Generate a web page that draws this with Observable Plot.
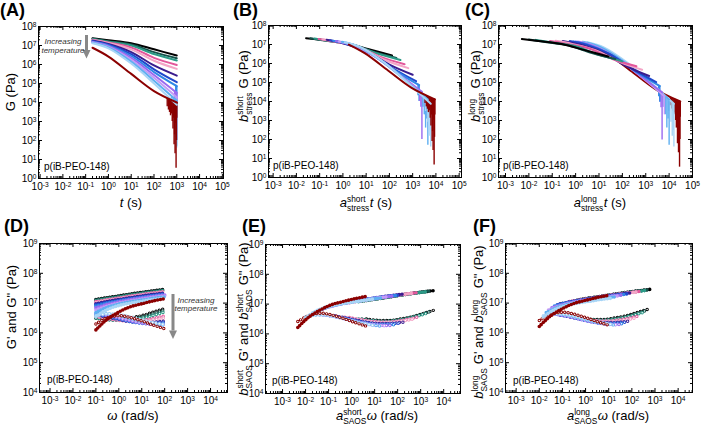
<!DOCTYPE html>
<html>
<head>
<meta charset="utf-8">
<script src="https://cdn.jsdelivr.net/npm/d3@7"></script>
<script src="https://cdn.jsdelivr.net/npm/@observablehq/plot@0.6"></script>
<style>
  body { margin: 0; background: #fff; }
  #fig { position: relative; width: 701px; height: 430px; font-family: Arial, "Liberation Sans", Helvetica, sans-serif; }
  #fig svg { position: absolute; left: 0; top: 0; }
</style>
</head>
<body>
<div id="fig"></div>
<script>
// ---------- data ----------
// temperature series, coldest first
const temps = ["T1", "T2", "T3", "T4", "T5", "T6", "T7", "T8", "T9", "T10", "T11", "T12", "T13"];
const lineColors = ["#000000", "#16524b", "#2b9a87", "#e2579b", "#f4a5c7", "#3a1c8e", "#2048cc",
                    "#2f87e6", "#9a6af0", "#c49bf6", "#5eaff1", "#a8d5f6", "#8b0000"];

// stress relaxation G(t), Pa
const tRelax = [0.2, 1, 10, 100, 1000];
const relaxModulus = [
  [2.4e7, 1.9e7, 1.32e7, 6.3e6, 2.95e6],
  [2.29e7, 1.7e7, 1.12e7, 4.47e6, 2.14e6],
  [2.19e7, 1.58e7, 1.0e7, 3.55e6, 1.62e6],
  [2.04e7, 1.45e7, 7.9e6, 2.24e6, 9.5e5],
  [1.95e7, 1.35e7, 6.3e6, 1.58e6, 5.9e5],
  [1.82e7, 1.2e7, 4.5e6, 8.9e5, 2.6e5],
  [1.7e7, 1.1e7, 3.55e6, 5.6e5, 1.17e5],
  [1.58e7, 1.0e7, 2.8e6, 4.0e5, 7.2e4],
  [1.51e7, 9.3e6, 2.24e6, 2.8e5, 3.2e4],
  [1.45e7, 8.5e6, 1.78e6, 2.0e5, 1.9e4],
  [1.38e7, 7.9e6, 1.41e6, 1.41e5, 1.26e4],
  [1.32e7, 7.1e6, 1.12e6, 1.0e5, 7.6e3],
  [7.6e6, 2.6e6, 3.2e5, 4.0e4, 1.0e4]
];
// noisy long-time tails: [t, upper G, lower G]
const tailT8 = [[900, 8e4, 2e4], [1000, 7.2e4, 1e4]];
const tailT9 = [[800, 3.6e4, 1e4], [900, 3.4e4, 5e3], [1000, 3.2e4, 1e2]];
const tailT10 = [[850, 2.1e4, 5e3], [1000, 1.9e4, 2e3]];
const tailT11 = [[600, 1.9e4, 5e3], [700, 1.7e4, 2e3], [800, 1.5e4, 4e2], [900, 1.35e4, 1.2e3], [1000, 1.26e4, 50]];
const tailT12 = [[600, 1.2e4, 3e3], [750, 1.0e4, 8e2], [850, 8.5e3, 1.5e2], [950, 8e3, 3e2], [1000, 7.6e3, 40]];
const tailT13 = [[380, 1.6e4, 6e3], [430, 1.5e4, 4e3], [480, 1.4e4, 3e3], [530, 1.3e4, 2e3], [580, 1.3e4, 2.5e3],
                 [630, 1.2e4, 1e3], [680, 1.2e4, 4e2], [720, 1.1e4, 1.5e3], [760, 1.1e4, 60], [800, 1.1e4, 2e2],
                 [840, 1.05e4, 20], [880, 1.0e4, 8e2], [930, 1.0e4, 3.5], [970, 1.0e4, 1e2], [1000, 1.0e4, 1.5e3]];
const relaxTails = [[7, tailT8], [8, tailT9], [9, tailT10], [10, tailT11], [11, tailT12], [12, tailT13]];

// stress shift factors
const aStressShort = [0.13, 0.2, 0.3, 0.45, 0.65, 1.0, 1.4, 1.9, 2.5, 3.3, 4.5, 6, 9];
const bStressShort = [0.9, 0.92, 0.94, 0.96, 0.97, 0.98, 1, 1, 1, 1, 1, 1, 1.3];
const aStressLong = [0.025, 0.05, 0.1, 0.4, 0.7, 1.4, 2.8, 4, 5, 6.3, 10, 16, 30];
const bStressLong = [0.8, 0.8, 0.8, 0.75, 0.8, 0.85, 0.9, 0.9, 0.95, 1, 1, 1, 1];

// SAOS frequency sweeps, Pa
const omega = [0.1, 0.3, 1, 3, 10, 30, 100];
const storageModulus = [
  [1.32e7, 1.51e7, 1.74e7, 2.0e7, 2.29e7, 2.57e7, 2.88e7],
  [1.26e7, 1.45e7, 1.66e7, 1.91e7, 2.19e7, 2.45e7, 2.75e7],
  [1.2e7, 1.38e7, 1.58e7, 1.82e7, 2.09e7, 2.34e7, 2.63e7],
  [1.12e7, 1.29e7, 1.48e7, 1.7e7, 1.95e7, 2.19e7, 2.45e7],
  [1.05e7, 1.23e7, 1.41e7, 1.62e7, 1.86e7, 2.09e7, 2.34e7],
  [9.5e6, 1.12e7, 1.32e7, 1.51e7, 1.74e7, 1.95e7, 2.19e7],
  [8.7e6, 1.05e7, 1.23e7, 1.41e7, 1.62e7, 1.82e7, 2.04e7],
  [7.9e6, 9.8e6, 1.17e7, 1.35e7, 1.55e7, 1.74e7, 1.95e7],
  [6.9e6, 8.9e6, 1.1e7, 1.29e7, 1.48e7, 1.66e7, 1.86e7],
  [5.9e6, 7.9e6, 1.0e7, 1.17e7, 1.35e7, 1.55e7, 1.74e7],
  [4.8e6, 7.1e6, 9.3e6, 1.1e7, 1.26e7, 1.45e7, 1.62e7],
  [3.5e6, 6.0e6, 8.3e6, 1.0e7, 1.15e7, 1.32e7, 1.48e7],
  [1.26e6, 2.8e6, 5.0e6, 7.4e6, 9.5e6, 1.17e7, 1.41e7]
];
const lossModulus = [
  [3.16e6, 2.88e6, 2.82e6, 3.16e6, 3.8e6, 4.9e6, 6.5e6],
  [3.16e6, 2.82e6, 2.69e6, 2.88e6, 3.39e6, 4.27e6, 5.75e6],
  [3.16e6, 2.82e6, 2.63e6, 2.69e6, 3.09e6, 3.8e6, 5.0e6],
  [3.55e6, 3.02e6, 2.63e6, 2.51e6, 2.63e6, 3.02e6, 3.72e6],
  [3.72e6, 3.16e6, 2.69e6, 2.45e6, 2.45e6, 2.69e6, 3.16e6],
  [3.98e6, 3.39e6, 2.82e6, 2.4e6, 2.24e6, 2.29e6, 2.51e6],
  [4.17e6, 3.55e6, 2.88e6, 2.4e6, 2.14e6, 2.14e6, 2.29e6],
  [4.27e6, 3.72e6, 3.02e6, 2.45e6, 2.09e6, 2.0e6, 2.04e6],
  [4.37e6, 3.89e6, 3.16e6, 2.57e6, 2.14e6, 1.95e6, 1.91e6],
  [4.47e6, 4.17e6, 3.47e6, 2.82e6, 2.29e6, 2.0e6, 1.86e6],
  [4.17e6, 4.37e6, 3.8e6, 3.09e6, 2.45e6, 2.04e6, 1.82e6],
  [3.8e6, 4.37e6, 4.17e6, 3.47e6, 2.75e6, 2.24e6, 1.91e6],
  [2.0e6, 3.16e6, 3.8e6, 3.31e6, 2.51e6, 1.86e6, 1.38e6]
];

// SAOS shift factors
const aSaosShort = [44, 28, 20, 8, 5, 2, 1.26, 0.8, 0.56, 0.32, 0.2, 0.1, 0.046];
const bSaosShort = [1, 1, 1, 1, 1, 1, 1, 1, 1, 1, 1, 1, 1.3];
const aSaosLong = [5.9, 4.5, 3.5, 2.0, 1.5, 0.8, 0.6, 0.45, 0.35, 0.25, 0.2, 0.15, 0.1];
const bSaosLong = [1, 1, 1, 1, 1, 1, 1, 1, 1, 1, 1, 1, 1.3];

const sampleName = "p(iB-PEO-148)";

// ---------- layout ----------
const W = 701, H = 430;
const FONT = 'Arial, "Liberation Sans", Helvetica, sans-serif';
// frame [left, right, top, bottom] in px, axis extents in decades
const panels = {
  A: {frame: [38, 223, 26, 178], x: [-3.07, 5.05], y: [0, 8]},
  B: {frame: [268, 461, 25, 177], x: [-3.2, 5.1], y: [0, 8]},
  C: {frame: [498, 692, 25, 177], x: [-3.3, 5.0], y: [0, 8]},
  D: {frame: [39, 227, 243, 392], x: [-3.46, 4.74], y: [4, 9]},
  E: {frame: [265, 460, 244, 393], x: [-3.74, 4.73], y: [4, 9]},
  F: {frame: [505, 692, 243, 392], x: [-3.46, 4.62], y: [4, 9]}
};

function decadeTicks([lo, hi]) {
  const out = [];
  for (let e = Math.ceil(lo - 1e-6); e <= Math.floor(hi + 1e-6); e++) out.push(10 ** e);
  return out;
}
function minorTicks([lo, hi]) {
  const out = [];
  for (let e = Math.floor(lo); e <= Math.ceil(hi); e++)
    for (let k = 2; k <= 9; k++) {
      const v = k * 10 ** e, l = Math.log10(v);
      if (l > lo && l < hi) out.push(v);
    }
  return out;
}
const powerFormat = d => `10^${Math.round(Math.log10(d))}`;

function panelPlot(box, marks) {
  const [L, R, T, B] = box.frame;
  const fw = R - L, fh = B - T;
  const edgeTicks = (len, xs, ys) => [
    Plot.ruleX(xs, {x: d => d, insetTop: fh - len}),
    Plot.ruleX(xs, {x: d => d, insetBottom: fh - len}),
    Plot.ruleY(ys, {y: d => d, insetRight: fw - len}),
    Plot.ruleY(ys, {y: d => d, insetLeft: fw - len})
  ];
  const xMaj = decadeTicks(box.x), yMaj = decadeTicks(box.y);
  return Plot.plot({
    width: W, height: H,
    marginLeft: L, marginRight: W - R, marginTop: T, marginBottom: H - B,
    x: {type: "log", domain: [10 ** box.x[0], 10 ** box.x[1]], label: null},
    y: {type: "log", domain: [10 ** box.y[0], 10 ** box.y[1]], label: null},
    color: {type: "identity"},
    style: {background: "transparent", fontFamily: FONT, overflow: "visible", color: "#000"},
    marks: [
      ...marks,
      ...edgeTicks(4, xMaj, yMaj),
      ...edgeTicks(2, minorTicks(box.x), minorTicks(box.y)),
      Plot.frame({stroke: "#000"}),
      Plot.axisX(xMaj, {tickSize: 0, tickPadding: 4, fontSize: 10, tickFormat: powerFormat, label: null}),
      Plot.axisY(yMaj, {tickSize: 0, tickPadding: 2, fontSize: 10, tickFormat: powerFormat, label: null})
    ]
  });
}

// ---------- marks ----------
const relaxRows = temps.flatMap((_, i) => tRelax.map((t, j) => ({i, t, G: relaxModulus[i][j]})));
const tailRows = relaxTails.flatMap(([i, pts]) => pts.map(([t, top, bottom]) => ({i, t, top, bottom})));

function relaxMarks(a, b, reverse = false) {
  const sa = i => (a ? a[i] : 1), sb = i => (b ? b[i] : 1);
  const ord = d => (reverse ? -d.i : d.i);
  const rows = relaxRows.map(d => ({i: d.i, x: d.t * sa(d.i), y: d.G * sb(d.i)}))
    .sort((p, q) => ord(p) - ord(q));
  const tails = tailRows.map(d => ({i: d.i, x: d.t * sa(d.i), y1: d.top * sb(d.i), y2: d.bottom * sb(d.i)}))
    .sort((p, q) => ord(p) - ord(q));
  return [
    Plot.ruleX(tails, {x: "x", y1: "y1", y2: "y2", stroke: d => lineColors[d.i], strokeWidth: 1.4, clip: true}),
    Plot.line(rows, {x: "x", y: "y", z: "i", stroke: d => lineColors[d.i], strokeWidth: 2,
                     curve: "catmull-rom", clip: true})
  ];
}

function saosMarks(a, b) {
  const sa = i => (a ? a[i] : 1), sb = i => (b ? b[i] : 1);
  const loss = [], storage = [];
  temps.forEach((_, i) => {
    const rows = omega.map((w, j) => ({x: w * sa(i), gp: storageModulus[i][j] * sb(i), gpp: lossModulus[i][j] * sb(i)}));
    const dots = {x: "x", strokeLinecap: "round", curve: "catmull-rom", clip: true};
    // G'' as open circles
    loss.push(
      Plot.line(rows, {...dots, y: "gpp", stroke: lineColors[i], strokeWidth: 3.4, strokeDasharray: "0 3.4"}),
      Plot.line(rows, {...dots, y: "gpp", stroke: "#fff", strokeWidth: 1.5, strokeDasharray: "0 3.4"})
    );
    // G' as filled circles
    storage.push(Plot.line(rows, {...dots, y: "gp", stroke: lineColors[i], strokeWidth: 3.6, strokeDasharray: "0 2.8"}));
  });
  return [...loss, ...storage];
}

const fig = document.getElementById("fig");
const plots = [
  panelPlot(panels.A, relaxMarks(null, null)),
  panelPlot(panels.B, relaxMarks(aStressShort, bStressShort)),
  panelPlot(panels.C, relaxMarks(aStressLong, bStressLong, true)),
  panelPlot(panels.D, saosMarks(null, null)),
  panelPlot(panels.E, saosMarks(aSaosShort, bSaosShort)),
  panelPlot(panels.F, saosMarks(aSaosLong, bSaosLong))
];
plots.forEach(p => fig.appendChild(p));

// tick labels as 10 with a raised exponent
plots.forEach(svg => {
  d3.select(svg).selectAll('g[aria-label="x-axis tick label"] text, g[aria-label="y-axis tick label"] text').each(function () {
    const m = /^10\^(.+)$/.exec(this.textContent);
    if (!m) return;
    this.textContent = "";
    const t = d3.select(this);
    t.append("tspan").text("10");
    t.append("tspan").attr("dy", "-0.45em").attr("font-size", "0.66em").text(m[1]);
  });
});

// ---------- titles and annotations ----------
const layer = d3.select(fig).append("svg")
  .attr("width", W).attr("height", H)
  .style("font-family", FONT).style("overflow", "visible");

const keepSpaces = s => s.replace(/ /g, "\u00a0");

function richLabel({x, y, rotate = 0, size = 13, parts}) {
  const g = layer.append("g")
    .attr("transform", `translate(${x},${y}) rotate(${rotate})`)
    .attr("font-size", size).attr("text-anchor", "start");
  const small = size * 0.64;
  let cx = 0;
  for (const p of parts) {
    if (p.t !== undefined) {
      const el = g.append("text").attr("x", cx).attr("y", 0).attr("font-style", p.i ? "italic" : null).text(keepSpaces(p.t));
      cx += el.node().getComputedTextLength();
    } else {
      const up = g.append("text").attr("x", cx).attr("y", -size * 0.42).attr("font-size", small).text(p.sup);
      const dn = g.append("text").attr("x", cx).attr("y", size * 0.28).attr("font-size", small).text(p.sub);
      cx += Math.max(up.node().getComputedTextLength(), dn.node().getComputedTextLength()) + 0.5;
    }
  }
  g.selectAll("text").attr("x", function () { return +this.getAttribute("x") - cx / 2; });
}

// axis titles
richLabel({x: 15, y: 92, rotate: -90, parts: [{t: "G (Pa)"}]});
richLabel({x: 131, y: 207, parts: [{t: "t", i: true}, {t: " (s)"}]});
richLabel({x: 248, y: 86, rotate: -90, parts: [{t: "b", i: true}, {sup: "short", sub: "stress"}, {t: " G (Pa)"}]});
richLabel({x: 366, y: 207, parts: [{t: "a", i: true}, {sup: "short", sub: "stress"}, {t: "t", i: true}, {t: " (s)"}]});
richLabel({x: 480, y: 86, rotate: -90, parts: [{t: "b", i: true}, {sup: "long", sub: "stress"}, {t: " G (Pa)"}]});
richLabel({x: 600, y: 207, parts: [{t: "a", i: true}, {sup: "long", sub: "stress"}, {t: "t", i: true}, {t: " (s)"}]});
richLabel({x: 16, y: 307, rotate: -90, parts: [{t: "G' and G\" (Pa)"}]});
richLabel({x: 133, y: 420, parts: [{t: "ω", i: true}, {t: " (rad/s)"}]});
richLabel({x: 248, y: 319, rotate: -90, parts: [{t: "b", i: true}, {sup: "short", sub: "SAOS"}, {t: " G' and "},
                                                 {t: "b", i: true}, {sup: "short", sub: "SAOS"}, {t: " G\" (Pa)"}]});
richLabel({x: 377, y: 420, parts: [{t: "a", i: true}, {sup: "short", sub: "SAOS"}, {t: "ω", i: true}, {t: " (rad/s)"}]});
richLabel({x: 483, y: 322, rotate: -90, parts: [{t: "b", i: true}, {sup: "long", sub: "SAOS"}, {t: " G' and "},
                                                 {t: "b", i: true}, {sup: "long", sub: "SAOS"}, {t: " G\" (Pa)"}]});
richLabel({x: 608, y: 420, parts: [{t: "a", i: true}, {sup: "long", sub: "SAOS"}, {t: "ω", i: true}, {t: " (rad/s)"}]});

// panel letters
[["(A)", 0, 16], ["(B)", 233, 16], ["(C)", 465, 16], ["(D)", 4, 232], ["(E)", 242, 232], ["(F)", 473, 232]]
  .forEach(([s, x, y]) => layer.append("text").attr("x", x).attr("y", y)
    .attr("font-size", 18).attr("font-weight", "bold").text(s));

// sample name inside each frame
[[44, 170], [273, 169], [503, 169], [47, 383], [272, 384], [513, 384]]
  .forEach(([x, y]) => layer.append("text").attr("x", x).attr("y", y).attr("font-size", 10).text(sampleName));

// "Increasing temperature" arrows
function tempArrow(x, y0, y1, tx, ty) {
  const head = 8.5;
  layer.append("rect").attr("x", x - 1.5).attr("y", y0).attr("width", 3).attr("height", y1 - y0 - head).attr("fill", "#888");
  layer.append("path").attr("d", `M${x - 4},${y1 - head}L${x + 4},${y1 - head}L${x},${y1}Z`).attr("fill", "#888");
  const t = layer.append("g").attr("font-size", 8).attr("font-style", "italic").attr("text-anchor", "middle").attr("fill", "#333");
  t.append("text").attr("x", tx).attr("y", ty).text("Increasing");
  t.append("text").attr("x", tx).attr("y", ty + 8.8).text("temperature");
}
tempArrow(86.5, 35, 58.5, 63, 44);
tempArrow(173, 294, 339, 196, 302.5);
</script>
</body>
</html>
